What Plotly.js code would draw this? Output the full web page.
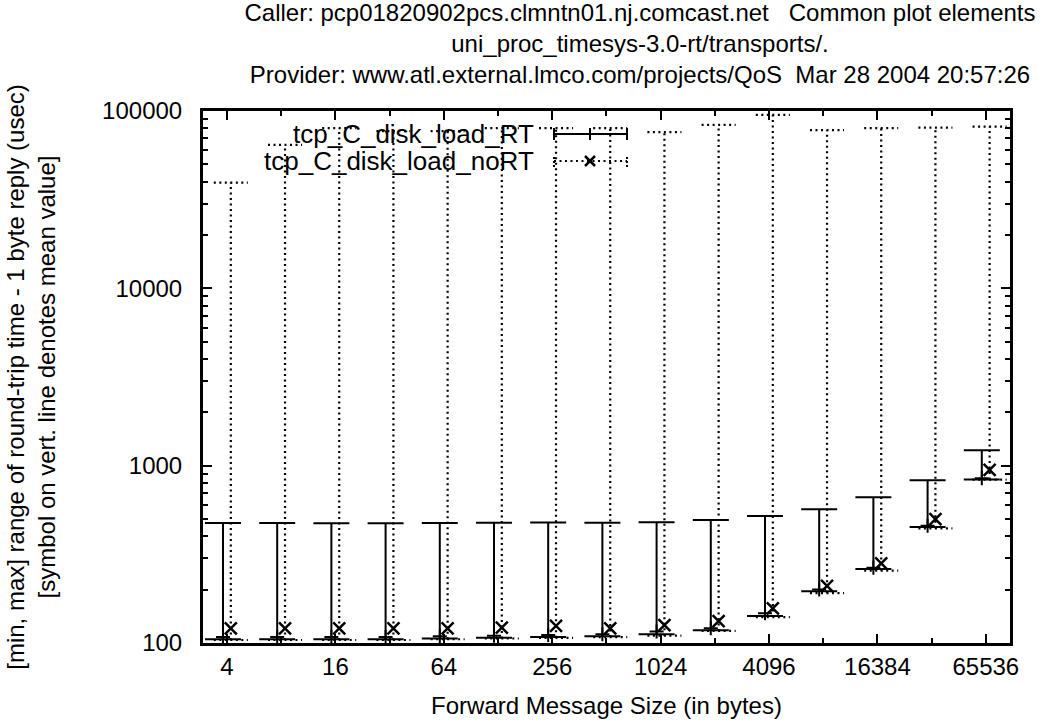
<!DOCTYPE html>
<html>
<head>
<meta charset="utf-8">
<script src="https://cdn.plot.ly/plotly-3.0.1.min.js"></script>
<style>html,body{margin:0;padding:0;background:#fff;}#chart{width:1045px;height:724px;}</style>
</head>
<body>
<div id="chart"></div>
<script>
// ---- data ----
const sizes = [4, 8, 16, 32, 64, 128, 256, 512, 1024, 2048, 4096, 8192, 16384, 32768, 65536];
const tickVals = [4, 16, 64, 256, 1024, 4096, 16384, 65536];
const tickText = ["4", "16", "64", "256", "1024", "4096", "16384", "65536"];
const yTickVals = [100, 1000, 10000, 100000];
const yTickText = ["100", "1000", "10000", "100000"];

const rtName = "tcp_C_disk_load_RT";
const rtMin  = [105, 105, 105, 105, 106, 107, 108, 109, 112, 118, 142, 196, 261, 451, 835];
const rtMax  = [475, 475, 474, 474, 475, 477, 478, 476, 479, 494, 520, 568, 663, 827, 1221];
const rtMean = [108, 108, 108, 108, 109, 110, 111, 112, 116, 121, 147, 200, 266, 458, 850];

const nrName = "tcp_C_disk_load_noRT";
const nrMin  = [104, 104, 104, 104, 105, 106, 107, 108, 110, 117, 140, 191, 256, 443, 835];
const nrMax  = [39500, 64400, 80000, 77000, 77000, 80000, 80000, 80000, 76000, 83500, 95000, 78000, 80000, 80600, 81600];
const nrMean = [121, 121, 121, 121, 121, 122, 125, 121, 126, 133, 157, 210, 281, 499, 946];

const titleLines = [
  "Caller: pcp01820902pcs.clmntn01.nj.comcast.net   Common plot elements",
  "uni_proc_timesys-3.0-rt/transports/.",
  "Provider: www.atl.external.lmco.com/projects/QoS  Mar 28 2004 20:57:26"
];
const xTitle = "Forward Message Size (in bytes)";
const yTitle = "[min, max] range of round-trip time - 1 byte reply (usec)<br>[symbol on vert. line denotes mean value]";

// ---- drawing ----
const FONT = "Liberation Sans, Arial, Helvetica, sans-serif";
const rtShift = 0.95, nrShift = 1.05, capHalf = 1.243;

const rtX = sizes.map(s => s * rtShift);
const nrX = sizes.map(s => s * nrShift);

// RT: solid error bars with "+" mean symbol
const rtTrace = {
  type: "scatter", mode: "markers", name: rtName, x: rtX, y: rtMean,
  marker: {symbol: "cross-thin-open", size: 10, color: "#000", line: {width: 2, color: "#000"}},
  error_y: {type: "data", symmetric: false,
    array: rtMax.map((v, i) => v - rtMean[i]),
    arrayminus: rtMean.map((v, i) => v - rtMin[i]),
    color: "#000", thickness: 2, width: 18},
  showlegend: false, hoverinfo: "x+y"
};

// noRT: dotted range lines + dotted caps, "x" mean symbol
const bx = [], by = [];
nrX.forEach((x, i) => {
  bx.push(x / capHalf, x * capHalf, null, x, x, null, x / capHalf, x * capHalf, null);
  by.push(nrMin[i], nrMin[i], null, nrMin[i], nrMax[i], null, nrMax[i], nrMax[i], null);
});
const nrBars = {
  type: "scatter", mode: "lines", x: bx, y: by, connectgaps: false,
  line: {color: "#000", width: 2.2, dash: "2px,3.5px"},
  showlegend: false, hoverinfo: "skip"
};
const nrTrace = {
  type: "scatter", mode: "markers", name: nrName, x: nrX, y: nrMean,
  marker: {symbol: "x-thin-open", size: 12, color: "#000", line: {width: 2.5, color: "#000"}},
  showlegend: false, hoverinfo: "x+y"
};

// plot-area geometry helpers (pixels -> paper) for the gnuplot-style key
const L = 203, R = 1010, T = 111, B = 643;
const px = p => (p - L) / (R - L);
const py = p => (B - p) / (B - T);

const keyX0 = px(554), keyX1 = px(627), keyXm = px(590);
const keyY1 = py(134), keyY2 = py(161);
const tk = 6 / (B - T);
const shapes = [
  {type: "line", xref: "paper", yref: "paper", x0: keyX0, x1: keyX1, y0: keyY1, y1: keyY1, line: {color: "#000", width: 2}},
  {type: "line", xref: "paper", yref: "paper", x0: keyX0, x1: keyX0, y0: keyY1 - tk, y1: keyY1 + tk, line: {color: "#000", width: 2}},
  {type: "line", xref: "paper", yref: "paper", x0: keyX1, x1: keyX1, y0: keyY1 - tk, y1: keyY1 + tk, line: {color: "#000", width: 2}},
  {type: "line", xref: "paper", yref: "paper", x0: keyXm, x1: keyXm, y0: keyY1 - tk, y1: keyY1 + tk, line: {color: "#000", width: 2}},
  {type: "line", xref: "paper", yref: "paper", x0: keyX0, x1: keyX1, y0: keyY2, y1: keyY2, line: {color: "#000", width: 2, dash: "2px,3.5px"}},
  {type: "line", xref: "paper", yref: "paper", x0: keyX0, x1: keyX0, y0: keyY2 - tk, y1: keyY2 + tk, line: {color: "#000", width: 2, dash: "2px,2px"}},
  {type: "line", xref: "paper", yref: "paper", x0: keyX1, x1: keyX1, y0: keyY2 - tk, y1: keyY2 + tk, line: {color: "#000", width: 2, dash: "2px,2px"}},
  {type: "line", xref: "paper", yref: "paper", x0: px(585), x1: px(595), y0: py(156), y1: py(166), line: {color: "#000", width: 2.5}},
  {type: "line", xref: "paper", yref: "paper", x0: px(585), x1: px(595), y0: py(166), y1: py(156), line: {color: "#000", width: 2.5}}
];

const annotations = [
  {xref: "paper", yref: "paper", x: px(536), y: keyY1, xanchor: "right", yanchor: "middle", showarrow: false,
   text: rtName, font: {family: FONT, size: 26, color: "#000"}},
  {xref: "paper", yref: "paper", x: px(536), y: keyY2, xanchor: "right", yanchor: "middle", showarrow: false,
   text: nrName, font: {family: FONT, size: 26, color: "#000"}}
];

const axisCommon = {
  showline: true, linecolor: "#000", linewidth: 3, mirror: "allticks",
  ticks: "inside", ticklen: 9, tickwidth: 2, tickcolor: "#000",
  showgrid: false, zeroline: false,
  tickfont: {family: FONT, size: 24, color: "#000"}
};

const layout = {
  width: 1045, height: 724,
  paper_bgcolor: "#fff", plot_bgcolor: "#fff",
  margin: {l: L, r: 1045 - R, t: T, b: 724 - B, pad: 0},
  title: {text: titleLines.join("<br>"), x: 640 / 1045, xref: "container", xanchor: "center",
          y: 1 - 21 / 724, yref: "container", yanchor: "middle",
          font: {family: FONT, size: 24, color: "#000"}},
  xaxis: Object.assign({}, axisCommon, {
    type: "log",
    range: [Math.log10(4) - 24 / 180.05, Math.log10(4) - 24 / 180.05 + 807 / 180.05],
    tickmode: "array", tickvals: tickVals, ticktext: tickText,
    minor: {ticks: "inside", ticklen: 5, tickwidth: 2, tickcolor: "#000", tickmode: "array",
            tickvals: sizes.filter(s => tickVals.indexOf(s) < 0), showgrid: false},
    title: {text: xTitle, font: {family: FONT, size: 24, color: "#000"}, standoff: 19}
  }),
  yaxis: Object.assign({}, axisCommon, {
    type: "log", range: [2, 5],
    tickmode: "array", tickvals: yTickVals, ticktext: yTickText,
    minor: {ticks: "inside", ticklen: 5, tickwidth: 2, tickcolor: "#000", dtick: "D1", showgrid: false},
    ticklabelstandoff: 13,
    title: {text: yTitle, font: {family: FONT, size: 24, color: "#000"}, standoff: 40}
  }),
  shapes: shapes,
  annotations: annotations,
  showlegend: false
};

Plotly.newPlot("chart", [nrBars, rtTrace, nrTrace], layout, {displayModeBar: false, staticPlot: true});
</script>
</body>
</html>
